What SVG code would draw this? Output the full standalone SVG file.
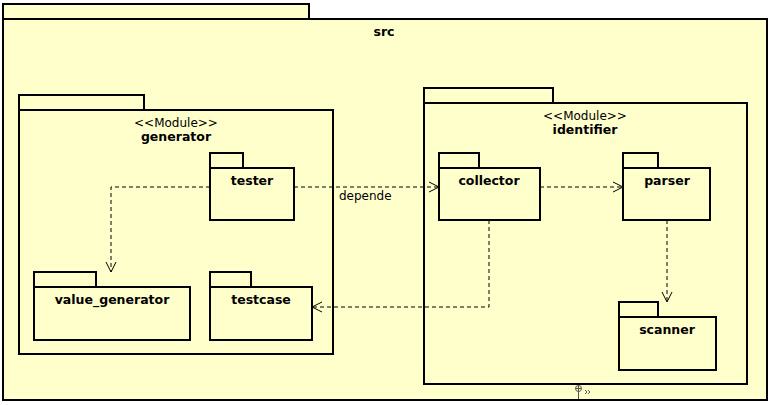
<svg xmlns="http://www.w3.org/2000/svg" width="770" height="405" viewBox="0 0 770 405">
<defs>
<style>
.pk{fill:#ffffcc;stroke:#000;stroke-width:2}
.bg{fill:#fff}
.t{font-family:"DejaVu Sans",Verdana,sans-serif;font-size:12.5px;font-weight:bold;text-anchor:middle;fill:#000}
.st{font-family:"DejaVu Sans",Verdana,sans-serif;font-size:12px;text-anchor:middle;fill:#000}
.lbl{font-family:"DejaVu Sans",Verdana,sans-serif;font-size:12px;fill:#000}
.dep{fill:none;stroke:#000;stroke-width:1;stroke-dasharray:4,3}
</style>
<marker id="open" viewBox="0 0 12 12" refX="11" refY="6" markerWidth="12" markerHeight="12" markerUnits="userSpaceOnUse" orient="auto">
<path d="M1,1 L11,6 L1,11" fill="none" stroke="#000" stroke-width="1"/>
</marker>
</defs>
<rect x="0" y="0" width="770" height="405" fill="#fff"/>
<g id="src">
<rect class="pk" x="3" y="4" width="306" height="15"/>
<rect class="pk" x="3" y="19" width="764" height="381"/>
<text class="t" x="384" y="36">src</text>
</g>
<g id="generator">
<rect class="pk" x="19" y="95" width="125" height="15"/>
<rect class="pk" x="19" y="110" width="314" height="244"/>
<text class="st" x="176" y="127">&lt;&lt;Module&gt;&gt;</text>
<text class="t" x="176" y="141">generator</text>
</g>
<g id="tester">
<rect class="pk" x="210" y="153" width="33" height="15"/>
<rect class="pk" x="210" y="168" width="84" height="52"/>
<text class="t" x="252" y="185">tester</text>
</g>
<g id="value_generator">
<rect class="pk" x="34" y="272" width="62" height="15"/>
<rect class="pk" x="34" y="287" width="156" height="53"/>
<text class="t" x="112" y="304">value_generator</text>
</g>
<g id="testcase">
<rect class="pk" x="210" y="272" width="41" height="15"/>
<rect class="pk" x="210" y="287" width="102" height="53"/>
<text class="t" x="261" y="304">testcase</text>
</g>
<g id="identifier">
<rect class="pk" x="424" y="88" width="129" height="15"/>
<rect class="pk" x="424" y="103" width="323" height="281"/>
<text class="st" x="585" y="120">&lt;&lt;Module&gt;&gt;</text>
<text class="t" x="585" y="134">identifier</text>
</g>
<g id="collector">
<rect class="pk" x="439" y="153" width="40" height="15"/>
<rect class="pk" x="439" y="168" width="101" height="52"/>
<text class="t" x="489" y="185">collector</text>
</g>
<g id="parser">
<rect class="pk" x="623" y="153" width="35" height="15"/>
<rect class="pk" x="623" y="168" width="87" height="52"/>
<text class="t" x="667" y="185">parser</text>
</g>
<g id="scanner">
<rect class="pk" x="619" y="302" width="39" height="15"/>
<rect class="pk" x="619" y="317" width="97" height="53"/>
<text class="t" x="667" y="334">scanner</text>
</g>
<g id="connectors">
<path class="dep" d="M210,187 H111 V272" marker-end="url(#open)"/>
<path class="dep" d="M294,187 H439" marker-end="url(#open)"/>
<text class="lbl" x="339" y="200">depende</text>
<path class="dep" d="M540,187 H623" marker-end="url(#open)"/>
<path class="dep" d="M667,220 V302" marker-end="url(#open)"/>
<path class="dep" d="M489,220 V307 H312" marker-end="url(#open)"/>
</g>
<g id="decor" stroke="#555" fill="none" stroke-width="1">
<circle cx="578.5" cy="388.5" r="3"/>
<path d="M575.5,388.5 H581.5 M578.5,385.5 V399"/>
<path d="M585,390 l2,2 l-2,2 M588,390 l2,2 l-2,2"/>
</g>
</svg>
